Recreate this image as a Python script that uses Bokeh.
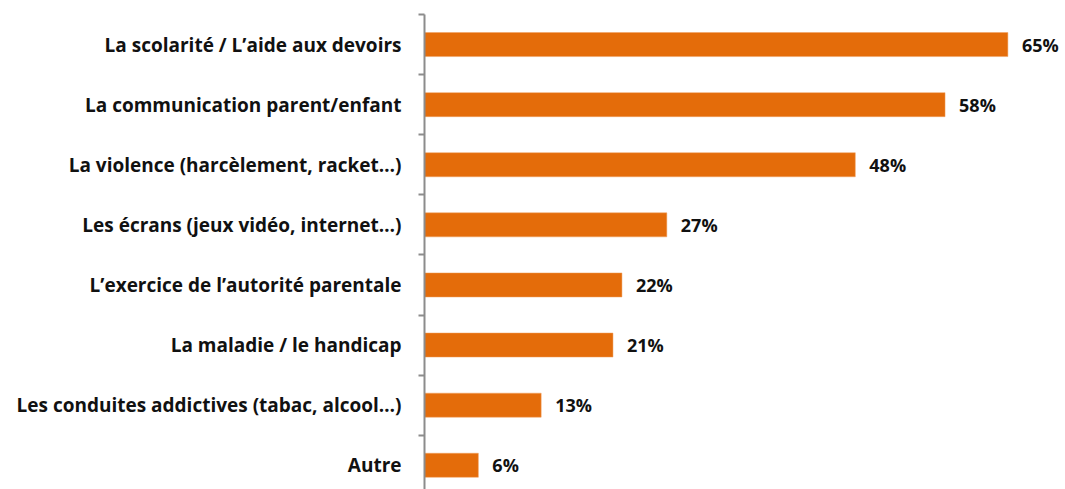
from bokeh.plotting import figure
from bokeh.models import FixedTicker, ColumnDataSource, Range1d
from bokeh.core.properties import value
from bokeh.embed import file_html
from bokeh.resources import INLINE

categories = [
    "La scolarité / L’aide aux devoirs",
    "La communication parent/enfant",
    "La violence (harcèlement, racket…)",
    "Les écrans (jeux vidéo, internet…)",
    "L’exercice de l’autorité parentale",
    "La maladie / le handicap",
    "Les conduites addictives (tabac, alcool…)",
    "Autre",
]
values = [65, 58, 48, 27, 22, 21, 13, 6]
value_labels = [f"{v}%" for v in values]

FONT = "Open Sans"
ORANGE = "#E46C0A"

n = len(categories)
ys = list(range(n))

W, H = 1065, 489
frame_left_px = 424
frame_top_px = 14
frame_h = H - frame_top_px
cat_px = 60.1
y_end_bottom = -0.5 + frame_h / cat_px

px_per_unit = 8.975
x_end = (W - frame_left_px) / px_per_unit

p = figure(width=W, height=H, output_backend="svg", toolbar_location=None,
           x_range=Range1d(0, x_end), y_range=Range1d(y_end_bottom, -0.5),
           min_border_left=frame_left_px, min_border_top=frame_top_px,
           min_border_bottom=0, min_border_right=0)
p.outline_line_color = None
p.xgrid.visible = False
p.ygrid.visible = False
p.xaxis.visible = False

src = ColumnDataSource(dict(y=ys, v=values, lab=value_labels))
p.hbar(y="y", right="v", left=0, height=0.4, source=src,
       fill_color=ORANGE, line_color="#F0A060", line_width=0.5)
p.text(x="v", y="y", text="lab", source=src, x_offset=14,
       text_baseline="middle", text_align="left",
       text_font=value(FONT), text_font_style="bold",
       text_font_size="18px", text_color="#111111")

yax = p.yaxis[0]
yax.ticker = FixedTicker(ticks=ys, minor_ticks=[i - 0.5 for i in range(n)])
yax.major_label_overrides = {i: c for i, c in zip(ys, categories)}
yax.major_tick_line_color = None
yax.major_tick_out = 0
yax.major_tick_in = 0
yax.minor_tick_out = 6
yax.minor_tick_in = 0
yax.minor_tick_line_color = "#8C8C8C"
yax.minor_tick_line_width = 2
yax.axis_line_color = "#8C8C8C"
yax.axis_line_width = 2
yax.major_label_standoff = 17
yax.major_label_text_font = FONT
yax.major_label_text_font_style = "bold"
yax.major_label_text_font_size = "19px"
yax.major_label_text_color = "#111111"

open("out.html", "w").write(file_html(p, INLINE))
